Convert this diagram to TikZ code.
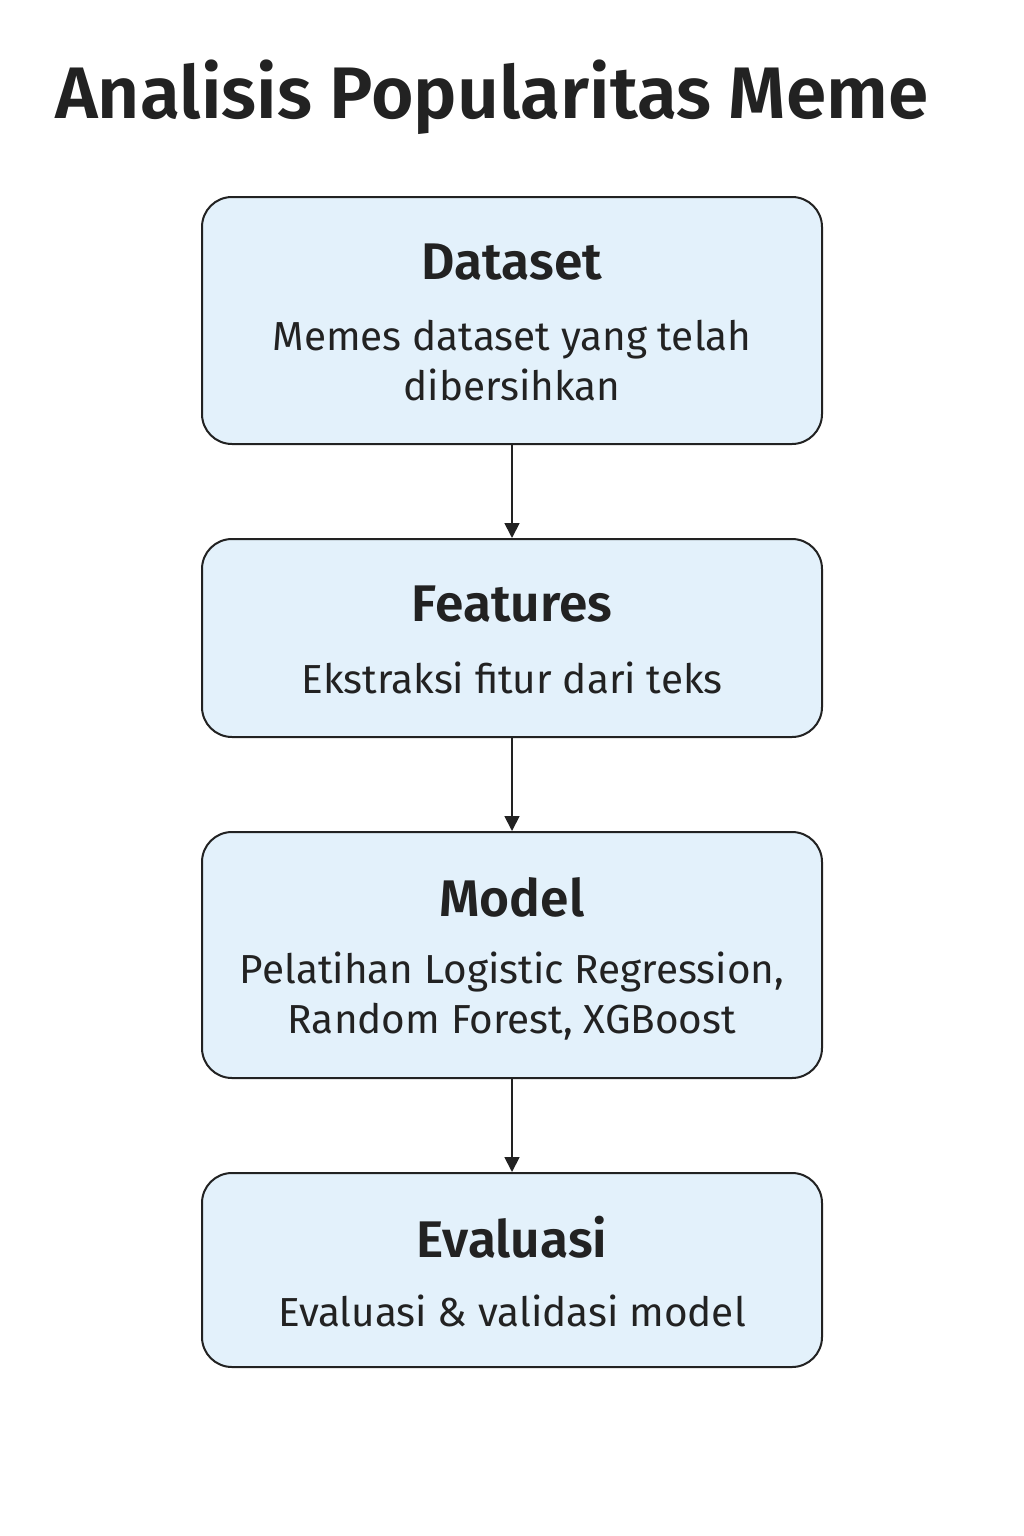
\documentclass[tikz,border=0pt]{standalone}
\usepackage{fontspec}
\setmainfont{Fira Sans}[BoldFont={Fira Sans SemiBold}]
\usetikzlibrary{arrows.meta}
\definecolor{boxfill}{HTML}{E3F1FB}
\definecolor{ink}{HTML}{222222}
\tikzset{
  stage/.style={draw=ink, line width=2pt, fill=boxfill, rounded corners=30pt,
    minimum width=620pt, inner sep=0pt},
  head/.style={text=ink, font=\fontsize{51.5}{56}\selectfont\bfseries, inner sep=0pt},
  body/.style={text=ink, font=\fontsize{40.5}{50}\selectfont, align=center, inner sep=0pt},
  flow/.style={draw=ink, line width=1.8pt, -{Triangle[length=15pt,width=15pt]}},
}
\begin{document}
\begin{tikzpicture}[x=1pt,y=-1pt]
\useasboundingbox (0,0) rectangle (1024,1536);
\fill[white] (0,0) rectangle (1024,1536);
\node[anchor=west, text=ink, font=\fontsize{73}{80}\selectfont\bfseries, inner sep=0pt] (title) at (55,97) {Analisis Popularitas Meme};

\node[stage, minimum height=247pt] (b1) at (512,320.5) {};
\node[head] (h1) at (512,262) {Dataset};
\node[body] (t1) at (512,361) {Memes dataset yang telah\\dibersihkan};

\node[stage, minimum height=198pt] (b2) at (512,638) {};
\node[head] (h2) at (512,604) {Features};
\node[body] (t2) at (512,678) {Ekstraksi fitur dari teks};

\node[stage, minimum height=246pt] (b3) at (512,955) {};
\node[head] (h3) at (512,897) {Model};
\node[body] (t3) at (512,996) {Pelatihan Logistic Regression,\\Random Forest, XGBoost};

\node[stage, minimum height=194pt] (b4) at (512,1270) {};
\node[head] (h4) at (512,1237) {Evaluasi};
\node[body] (t4) at (512,1311) {Evaluasi \& validasi model};

\draw[flow] (b1.south) -- (b2.north);
\draw[flow] (b2.south) -- (b3.north);
\draw[flow] (b3.south) -- (b4.north);
\end{tikzpicture}
\end{document}
